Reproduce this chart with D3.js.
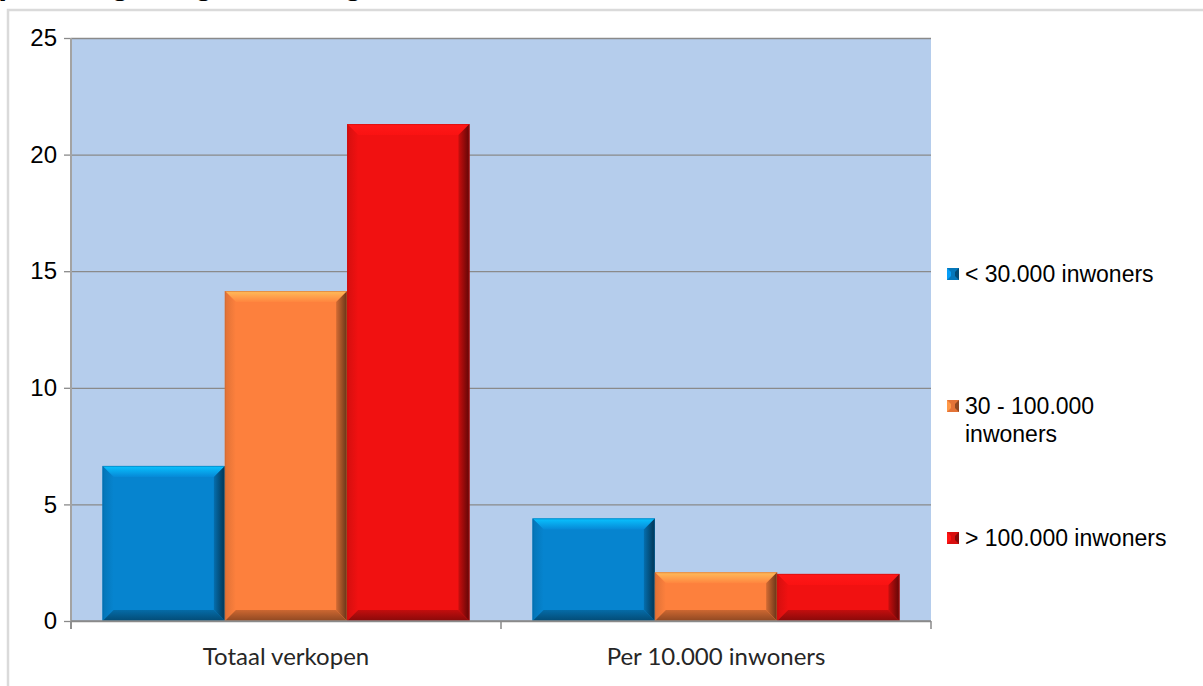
<!DOCTYPE html>
<html>
<head>
<meta charset="utf-8">
<script src="https://cdn.jsdelivr.net/npm/d3@7"></script>
<style>
  body { margin:0; background:#fff; }
  svg { display:block; }
</style>
</head>
<body>
<div id="canvas"></div>
<script>
// --- data
var categories = ["Totaal verkopen", "Per 10.000 inwoners"];
var series = ["< 30.000 inwoners", "30 - 100.000 inwoners", "> 100.000 inwoners"];
var legendLines = [["< 30.000 inwoners"], ["30 - 100.000", "inwoners"], ["> 100.000 inwoners"]];
var small = [6.65, 4.40];
var middle = [14.15, 2.09];
var large = [21.31, 2.02];
var yTicks = [0, 5, 10, 15, 20, 25];
var colors = ["#0684cf", "#fd803d", "#f11111"];
var title = "Verkopen volgens gemeentegrootte";

var W = 1203, H = 686;
var P = {left:71, right:931, top:38, bottom:621};

var svg = d3.select('#canvas').append('svg')
  .attr('width', W).attr('height', H);

// outer frame
svg.append('rect')
  .attr('x', 8).attr('y', 10).attr('width', 1300).attr('height', 800)
  .attr('fill', '#fff').attr('stroke', '#dadada').attr('stroke-width', 2.5);

// title (mostly above the visible area, only descenders show)
svg.append('text')
  .attr('x', -89).attr('y', -6.5)
  .attr('font-family', 'Liberation Sans, Arial, sans-serif')
  .attr('font-weight', 'bold').attr('font-size', '32px')
  .attr('fill', '#000')
  .text(title);

// --- scales
var y = d3.scaleLinear().domain([0, 25]).range([P.bottom, P.top]);
var x0 = d3.scaleBand().domain(categories).range([P.left, P.right]).padding(0);
var x1 = d3.scaleBand().domain(series).range([0, x0.bandwidth()])
  .paddingInner(0).paddingOuter(0.258);

// plot background
svg.append('rect')
  .attr('x', P.left).attr('y', P.top)
  .attr('width', P.right - P.left).attr('height', P.bottom - P.top)
  .attr('fill', '#b5cdec');

// gridlines + y axis
var yAxis = d3.axisLeft(y).tickValues(yTicks)
  .tickSize(-(P.right - P.left)).tickPadding(14).tickFormat(d3.format('d'));
var gy = svg.append('g').attr('transform', 'translate(' + P.left + ',0)').call(yAxis);
gy.select('.domain').remove();
gy.selectAll('.tick line').attr('stroke', '#8a8a8a').attr('stroke-width', 1.3);
gy.selectAll('.tick').append('line')
  .attr('x1', -7).attr('x2', 0).attr('stroke', '#8a8a8a').attr('stroke-width', 1.3);
gy.selectAll('.tick text')
  .attr('font-family', 'Liberation Sans, Arial, sans-serif')
  .attr('font-size', '24px').attr('fill', '#000').attr('x', -14);

svg.append('line')
  .attr('x1', P.left).attr('x2', P.left).attr('y1', P.top).attr('y2', P.bottom + 8)
  .attr('stroke', '#a3a3a3').attr('stroke-width', 2);

// --- bars with bevel
var defs = svg.append('defs');
var rows = [];
categories.forEach(function(c, i){
  rows.push({cat:c, s:series[0], v:small[i], col:colors[0], k:0});
  rows.push({cat:c, s:series[1], v:middle[i], col:colors[1], k:1});
  rows.push({cat:c, s:series[2], v:large[i], col:colors[2], k:2});
});

colors.forEach(function(col, k){
  var c = d3.color(col);
  function grad(id, x1_, y1_, x2_, y2_, a, b){
    var g = defs.append('linearGradient').attr('id', id)
      .attr('x1', x1_).attr('y1', y1_).attr('x2', x2_).attr('y2', y2_);
    g.append('stop').attr('offset', '0%').attr('stop-color', a);
    g.append('stop').attr('offset', '100%').attr('stop-color', b);
  }
  grad('top' + k, 0, 0, 0, 1, c.brighter(1.1), c.brighter(0.1));
  grad('left' + k, 0, 0, 1, 0, c.darker(0.35), c);
  grad('right' + k, 0, 0, 1, 0, c.darker(0.5), c.darker(2.6));
  grad('bot' + k, 0, 0, 0, 1, c.darker(0.6), c.darker(1.6));
});

var bw = 11;
rows.forEach(function(d){
  var bx = x0(d.cat) + x1(d.s), w = x1.bandwidth();
  var by = y(d.v), h = y(0) - y(d.v);
  var b = Math.min(bw, h / 2);
  var g = svg.append('g');
  g.append('rect').attr('x', bx).attr('y', by).attr('width', w).attr('height', h)
    .attr('fill', d.col);
  var x2 = bx + w, y2 = by + h;
  var faces = [
    {pts:[[bx,by],[x2,by],[x2-b,by+b],[bx+b,by+b]], f:'top'},
    {pts:[[bx,by],[bx+b,by+b],[bx+b,y2-b],[bx,y2]], f:'left'},
    {pts:[[x2,by],[x2,y2],[x2-b,y2-b],[x2-b,by+b]], f:'right'},
    {pts:[[bx,y2],[bx+b,y2-b],[x2-b,y2-b],[x2,y2]], f:'bot'}
  ];
  faces.forEach(function(fc){
    g.append('path').attr('d', d3.line()(fc.pts) + 'Z')
      .attr('fill', 'url(#' + fc.f + d.k + ')');
  });
  g.append('rect').attr('x', bx + 0.5).attr('y', by + 0.5).attr('width', w - 1).attr('height', h - 1)
    .attr('fill', 'none').attr('stroke', d3.color(d.col).darker(0.6)).attr('stroke-opacity', 0.5);
});

// x axis
svg.append('line')
  .attr('x1', P.left).attr('x2', P.right).attr('y1', P.bottom).attr('y2', P.bottom)
  .attr('stroke', '#8a8a8a').attr('stroke-width', 1.5);
var bounds = [P.left, x0(categories[1]), P.right];
svg.selectAll('.xtick').data(bounds).enter().append('line')
  .attr('x1', function(d){return d;}).attr('x2', function(d){return d;})
  .attr('y1', P.bottom).attr('y2', P.bottom + 8)
  .attr('stroke', '#8a8a8a').attr('stroke-width', 1.5);
svg.selectAll('.xlab').data(categories).enter().append('text')
  .attr('x', function(d){return x0(d) + x0.bandwidth() / 2;})
  .attr('y', 665)
  .attr('text-anchor', 'middle')
  .attr('font-family', 'Lato, sans-serif')
  .attr('font-size', '24px').attr('fill', '#262626')
  .text(function(d){return d;});

// legend
var legY = [274, 406, 538];
var lg = svg.selectAll('.leg').data(series).enter().append('g')
  .attr('transform', function(d, i){return 'translate(947,' + legY[i] + ')';});
lg.each(function(d, i){
  var g = d3.select(this), s = 12, b = 4;
  var c = d3.color(colors[i]);
  g.append('rect').attr('x', 0).attr('y', -s/2).attr('width', s).attr('height', s).attr('fill', c.darker(0.3));
  g.append('path').attr('d', 'M0,' + (-s/2) + 'L' + b + ',' + (-s/2 + b) + 'L' + b + ',' + (s/2 - b) + 'L0,' + (s/2) + 'Z')
    .attr('fill', c.brighter(0.5));
  g.append('path').attr('d', 'M' + s + ',' + (-s/2) + 'L' + (s - b) + ',' + (-s/2 + b) + 'L' + (s - b) + ',' + (s/2 - b) + 'L' + s + ',' + (s/2) + 'Z')
    .attr('fill', c.darker(1.6));
  var t = g.append('text').attr('x', 18).attr('y', 0)
    .attr('font-family', 'Liberation Sans, Arial, sans-serif')
    .attr('font-size', '23px').attr('fill', '#000');
  legendLines[i].forEach(function(line, j){
    t.append('tspan').attr('x', 18).attr('dy', j === 0 ? '0.35em' : '1.22em').text(line);
  });
});
</script>
</body>
</html>
